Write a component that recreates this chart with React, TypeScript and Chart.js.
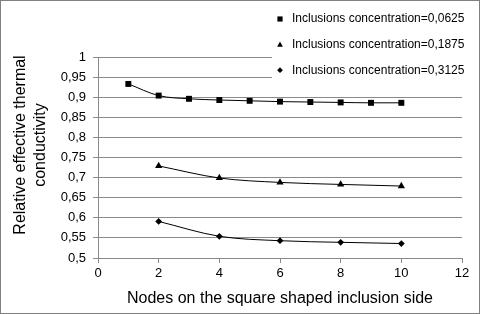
import React, { useEffect, useRef } from 'react';
import { Chart, registerables } from 'chart.js';

Chart.register(...registerables);

const xNodes1 = [1, 2, 3, 4, 5, 6, 7, 8, 9, 10];
const series1 = [0.933, 0.904, 0.896, 0.893, 0.891, 0.889, 0.888, 0.887, 0.886, 0.886];
const xNodes2 = [2, 4, 6, 8, 10];
const series2 = [0.729, 0.699, 0.688, 0.683, 0.679];
const xNodes3 = [2, 4, 6, 8, 10];
const series3 = [0.591, 0.554, 0.543, 0.539, 0.536];
const seriesLabels = [
  'Inclusions concentration=0,0625',
  'Inclusions concentration=0,1875',
  'Inclusions concentration=0,3125',
];
const pointStyles = ['rect', 'triangle', 'rectRot'];
const pointRadii = [4.2, 4.2, 3.4];
const yTitle = ['Relative effective thermal', 'conductivity'];
const xTitle = 'Nodes on the square shaped inclusion side';

const FONT = "'Liberation Sans', Arial, sans-serif";
const GRID = '#8a8a8a';

function drawMarker(ctx: CanvasRenderingContext2D, style: string, x: number, y: number, r: number) {
  ctx.beginPath();
  if (style === 'rect') {
    ctx.rect(x - r, y - r, 2 * r, 2 * r);
  } else if (style === 'triangle') {
    ctx.moveTo(x, y - r * 1.2);
    ctx.lineTo(x + r * 1.1, y + r * 0.8);
    ctx.lineTo(x - r * 1.1, y + r * 0.8);
    ctx.closePath();
  } else {
    ctx.moveTo(x, y - r * 1.1);
    ctx.lineTo(x + r * 1.1, y);
    ctx.lineTo(x, y + r * 1.1);
    ctx.lineTo(x - r * 1.1, y);
    ctx.closePath();
  }
  ctx.fill();
}

const legendPlugin = {
  id: 'customLegend',
  afterDraw(chart: any) {
    const ctx = chart.ctx as CanvasRenderingContext2D;
    ctx.save();
    // y-axis title (two lines, rotated)
    ctx.fillStyle = '#000';
    ctx.font = `16px ${FONT}`;
    ctx.textAlign = 'center';
    ctx.textBaseline = 'middle';
    yTitle.forEach((line, i) => {
      ctx.save();
      ctx.translate(21 + i * 20, 145);
      ctx.rotate(-Math.PI / 2);
      ctx.fillText(line, 0, 0);
      ctx.restore();
    });
    // legend
    ctx.fillStyle = '#ffffff';
    ctx.fillRect(272, 1, 207, 86);
    chart.data.datasets.forEach((ds: any, i: number) => {
      const y = 19 + i * 25.6;
      ctx.fillStyle = '#000';
      drawMarker(ctx, ds.pointStyle, 280, y, 2.6);
      ctx.font = `12px ${FONT}`;
      ctx.textBaseline = 'middle';
      ctx.textAlign = 'left';
      ctx.fillText(ds.label, 292, y);
    });
    ctx.strokeStyle = '#808080';
    ctx.lineWidth = 1;
    ctx.strokeRect(0.5, 0.5, 479, 313);
    ctx.restore();
  },
};

export default function App() {
  const ref = useRef<HTMLCanvasElement | null>(null);

  useEffect(() => {
    if (!ref.current) return;
    const xs = [xNodes1, xNodes2, xNodes3];
    const ys = [series1, series2, series3];
    const chart = new Chart(ref.current, {
      type: 'line',
      data: {
        datasets: ys.map((vals, i) => ({
          label: seriesLabels[i],
          data: vals.map((v, j) => ({ x: xs[i][j], y: v })),
          borderColor: '#000',
          backgroundColor: '#000',
          borderWidth: 1,
          pointStyle: pointStyles[i] as any,
          pointRadius: pointRadii[i],
          pointBackgroundColor: '#000',
          pointBorderColor: '#000',
          pointBorderWidth: 0,
          cubicInterpolationMode: 'monotone' as const,
          fill: false,
        })),
      },
      options: {
        animation: false,
        responsive: false,
        maintainAspectRatio: false,
        layout: { padding: { top: 57, right: 18, left: 0, bottom: 0 } },
        plugins: {
          legend: { display: false },
          tooltip: { enabled: false },
        },
        scales: {
          x: {
            type: 'linear',
            min: 0,
            max: 12,
            ticks: {
              stepSize: 2,
              color: '#000',
              font: { family: FONT, size: 13 },
              padding: 3,
            },
            grid: {
              drawOnChartArea: false,
              drawTicks: true,
              tickLength: 5,
              color: GRID,
            },
            border: { color: GRID, width: 1 },
            title: {
              display: true,
              text: xTitle,
              color: '#000',
              font: { family: FONT, size: 16 },
              padding: { top: 0, bottom: 6 },
            },
            afterFit: (s: any) => {
              s.height = 56;
            },
          },
          y: {
            type: 'linear',
            min: 0.5,
            max: 1,
            ticks: {
              stepSize: 0.05,
              color: '#000',
              font: { family: FONT, size: 13 },
              padding: 7,
              callback: (v: any) => String(Number(Number(v).toFixed(2))).replace('.', ','),
            },
            grid: {
              color: GRID,
              tickLength: 5,
            },
            border: { color: GRID, width: 1 },
            title: { display: false },
            afterFit: (s: any) => {
              s.width = 98;
            },
          },
        },
      },
      plugins: [legendPlugin],
    });
    return () => chart.destroy();
  }, []);

  return (
    <div style={{ position: 'fixed', left: 0, top: 0, width: 480, height: 314, background: '#fff' }}>
      <canvas ref={ref} width={480} height={314} style={{ width: 480, height: 314, display: 'block' }} />
    </div>
  );
}
